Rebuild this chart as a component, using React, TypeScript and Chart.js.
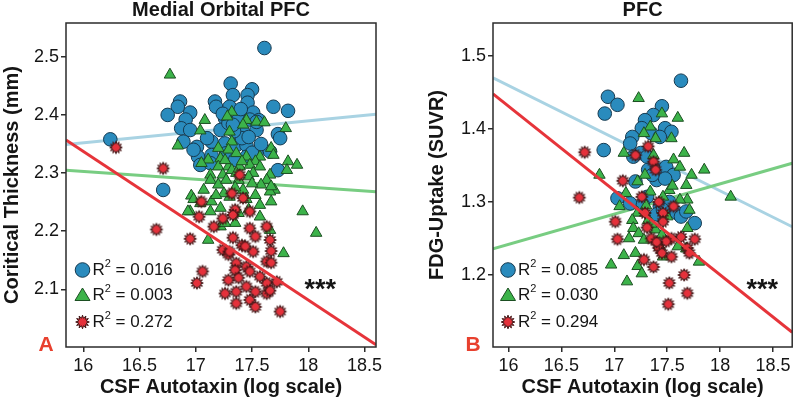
import React, { useEffect, useRef } from 'react';
import { Chart, registerables } from 'chart.js';

Chart.register(...registerables);

type Pt = [number, number];

// ---------- tick labels ----------
const xTickValues = [16, 16.5, 17, 17.5, 18, 18.5];
const yTicksThickness = [2.1, 2.2, 2.3, 2.4, 2.5];
const yTicksFdg = [1.2, 1.3, 1.4, 1.5];

// ---------- Panel A: Medial Orbital PFC (cortical thickness) ----------
const thickBlue: Pt[] = [
  [16.24, 2.358], [16.71, 2.271], [17.61, 2.515], [17.31, 2.454], [17.5, 2.444], [17.33, 2.434], [17.46, 2.434],
  [16.86, 2.423], [17.17, 2.423], [17.46, 2.421], [17.69, 2.414], [17.82, 2.407], [16.84, 2.414], [16.95, 2.404],
  [16.75, 2.4], [17.18, 2.414], [17.3, 2.414], [17.51, 2.404], [16.91, 2.392], [17.26, 2.394], [17.56, 2.391],
  [16.87, 2.377], [16.95, 2.374], [17.22, 2.374], [17.29, 2.386], [17.42, 2.371], [17.54, 2.374], [17.73, 2.367],
  [17.75, 2.36], [16.89, 2.354], [17.14, 2.354], [17.01, 2.345], [17.26, 2.351], [17.36, 2.348], [17.45, 2.348],
  [17.02, 2.328], [17.14, 2.331], [17.27, 2.334], [17.45, 2.328], [17.54, 2.334], [17.04, 2.314], [17.13, 2.317],
  [17.35, 2.323], [17.66, 2.337], [17.73, 2.305], [17.41, 2.36], [17.38, 2.392], [17.4, 2.41], [17.47, 2.362],
  [17.24, 2.402], [17.5, 2.335], [17.1, 2.36], [16.98, 2.34], [17.58, 2.35], [17.34, 2.372], [17.48, 2.392],
  [17.33, 2.383], [17.54, 2.388],
];
const thickGreen: Pt[] = [
  [16.77, 2.469], [17.08, 2.391], [17.04, 2.373], [17.32, 2.405], [17.28, 2.397], [17.45, 2.391], [17.42, 2.383],
  [17.54, 2.388], [17.61, 2.387], [17.8, 2.377], [16.84, 2.347], [17.3, 2.371], [17.32, 2.354], [17.2, 2.343],
  [17.29, 2.34], [17.36, 2.334], [17.67, 2.343], [17.69, 2.331], [17.22, 2.325], [17.45, 2.328], [17.57, 2.328],
  [17.53, 2.32], [17.11, 2.323], [17.2, 2.311], [17.29, 2.311], [17.39, 2.311], [17.48, 2.314], [17.57, 2.311],
  [17.82, 2.32], [17.9, 2.314], [17.05, 2.317], [17.13, 2.297], [17.24, 2.297], [17.32, 2.305], [17.51, 2.3],
  [17.66, 2.297], [17.81, 2.305], [16.96, 2.261], [17.07, 2.271], [17.13, 2.288], [17.2, 2.28], [17.27, 2.288],
  [17.38, 2.288], [17.47, 2.294], [17.63, 2.288], [17.7, 2.271], [17.66, 2.268], [17.53, 2.262], [17.42, 2.271],
  [17.3, 2.259], [17.14, 2.251], [17.04, 2.248], [16.95, 2.234], [17.13, 2.234], [17.22, 2.24], [17.57, 2.245],
  [17.67, 2.251], [17.38, 2.231], [17.47, 2.237], [17.57, 2.225], [17.35, 2.214], [17.22, 2.208], [17.26, 2.214],
  [17.66, 2.202], [17.11, 2.185], [17.78, 2.162], [16.93, 2.234], [17.95, 2.234], [18.07, 2.197], [16.98, 2.255],
  [17.67, 2.277], [17.35, 2.275], [17.25, 2.265], [17.45, 2.255], [17.18, 2.262], [17.58, 2.28], [17.36, 2.3],
  [17.41, 2.32], [17.26, 2.322], [17.5, 2.282],
];
const thickRed: Pt[] = [
  [16.29, 2.344], [16.71, 2.308], [16.65, 2.203], [16.95, 2.187], [17.05, 2.251], [17.03, 2.225], [17.06, 2.131],
  [17.01, 2.111], [17.16, 2.208], [17.39, 2.297], [17.32, 2.265], [17.42, 2.257], [17.48, 2.234], [17.35, 2.237],
  [17.33, 2.228], [17.24, 2.222], [17.48, 2.205], [17.63, 2.208], [17.53, 2.191], [17.33, 2.189], [17.66, 2.185],
  [17.67, 2.166], [17.24, 2.168], [17.41, 2.176], [17.51, 2.165], [17.63, 2.148], [17.29, 2.16], [17.36, 2.145],
  [17.45, 2.139], [17.35, 2.133], [17.48, 2.131], [17.72, 2.113], [17.29, 2.116], [17.38, 2.12], [17.45, 2.105],
  [17.63, 2.111], [17.26, 2.093], [17.36, 2.096], [17.53, 2.096], [17.63, 2.093], [17.66, 2.098], [17.36, 2.076],
  [17.48, 2.082], [17.53, 2.07], [17.75, 2.062], [17.57, 2.122], [17.67, 2.146], [17.44, 2.174], [17.3, 2.165],
];
const thickFitBlue: Pt[] = [[15.846, 2.349], [18.602, 2.401]];
const thickFitGreen: Pt[] = [[15.846, 2.305], [18.602, 2.268]];
const thickFitRed: Pt[] = [[15.846, 2.357], [18.602, 2.005]];
const thickR2 = ['0.016', '0.003', '0.272'];

// ---------- Panel B: PFC (FDG uptake) ----------
const fdgBlue: Pt[] = [
  [17.63, 1.466], [16.94, 1.444], [17.03, 1.433], [16.91, 1.421], [17.45, 1.431], [17.37, 1.419], [17.29, 1.412],
  [17.48, 1.401], [17.54, 1.396], [17.26, 1.401], [17.17, 1.389], [17.35, 1.394], [17.43, 1.389], [16.9, 1.371],
  [17.15, 1.38], [17.25, 1.367], [17.18, 1.362], [17.2, 1.328], [17.32, 1.344], [17.43, 1.344], [17.49, 1.348],
  [17.56, 1.337], [17.4, 1.33], [17.03, 1.305], [17.15, 1.298], [17.31, 1.307], [17.43, 1.294], [17.49, 1.289],
  [17.59, 1.285], [17.63, 1.28], [17.76, 1.271], [17.31, 1.362], [17.48, 1.332], [17.36, 1.337], [17.52, 1.3],
  [17.27, 1.296], [17.4, 1.283], [17.46, 1.289], [17.68, 1.287],
];
const fdgGreen: Pt[] = [
  [17.23, 1.442], [17.45, 1.421], [17.6, 1.415], [17.34, 1.403], [17.28, 1.394], [17.54, 1.387], [17.39, 1.387],
  [17.09, 1.367], [17.37, 1.364], [17.66, 1.367], [17.56, 1.358], [17.85, 1.344], [17.73, 1.337], [17.62, 1.348],
  [16.86, 1.337], [17.29, 1.337], [17.22, 1.328], [17.68, 1.323], [18.1, 1.307], [17.52, 1.316], [17.11, 1.312],
  [17.34, 1.314], [17.46, 1.307], [17.69, 1.303], [17.05, 1.294], [17.22, 1.285], [17.62, 1.303], [17.71, 1.289],
  [17.17, 1.275], [17.32, 1.275], [17.18, 1.264], [17.23, 1.257], [17.39, 1.262], [17.69, 1.264], [17.28, 1.248],
  [17.43, 1.239], [17.6, 1.239], [17.09, 1.227], [17.2, 1.23], [17.46, 1.225], [16.97, 1.214], [17.22, 1.212],
  [17.26, 1.202], [17.12, 1.191], [17.8, 1.218], [17.68, 1.236], [17.35, 1.27], [17.5, 1.28], [17.45, 1.255],
  [17.14, 1.25], [17.3, 1.295], [17.55, 1.322],
];
const fdgRed: Pt[] = [
  [16.72, 1.368], [16.67, 1.306], [17.2, 1.364], [17.32, 1.376], [17.37, 1.355], [17.39, 1.344], [17.08, 1.329],
  [17.26, 1.307], [17.42, 1.3], [17.56, 1.294], [17.29, 1.285], [17.46, 1.285], [17.01, 1.273], [17.46, 1.273],
  [17.03, 1.249], [17.35, 1.25], [17.54, 1.25], [17.63, 1.252], [17.76, 1.249], [17.49, 1.246], [17.42, 1.237],
  [17.45, 1.23], [17.69, 1.237], [17.71, 1.23], [17.54, 1.225], [17.28, 1.221], [17.37, 1.211], [17.66, 1.2],
  [17.52, 1.189], [17.69, 1.175], [17.51, 1.16], [17.4, 1.245], [17.31, 1.265],
];
const fdgFitBlue: Pt[] = [[15.854, 1.47], [18.681, 1.266]];
const fdgFitGreen: Pt[] = [[15.854, 1.236], [18.681, 1.353]];
const fdgFitRed: Pt[] = [[15.854, 1.448], [18.681, 1.1215]];
const fdgR2 = ['0.085', '0.030', '0.294'];

// ---------- styles ----------
const FONT = "'Liberation Sans', Arial, Helvetica, sans-serif";
const TEXT = '#151515';
const BLUE = '#2a8bbd';
const BLUE_EDGE = '#163a50';
const GREEN = '#3cb34a';
const GREEN_EDGE = '#1c4f22';
const RED = '#e5313b';
const RED_EDGE = '#3a1212';
const FIT_BLUE = '#a9d3e3';
const FIT_GREEN = '#78cd82';
const FIT_RED = '#e6343a';
const LETTER_RED = '#e8402e';

function drawStar(ctx: CanvasRenderingContext2D, cx: number, cy: number, outer: number, inner: number) {
  const spikes = 12;
  ctx.beginPath();
  for (let i = 0; i < spikes * 2; i++) {
    const r = i % 2 === 0 ? outer : inner;
    const a = -Math.PI / 2 + (i * Math.PI) / spikes;
    const px = cx + r * Math.cos(a);
    const py = cy + r * Math.sin(a);
    if (i === 0) ctx.moveTo(px, py);
    else ctx.lineTo(px, py);
  }
  ctx.closePath();
  ctx.fillStyle = RED;
  ctx.fill();
  ctx.lineWidth = 1;
  ctx.lineJoin = 'miter';
  ctx.strokeStyle = RED_EDGE;
  ctx.stroke();
}

function makeStarImage(outer: number, inner: number): HTMLCanvasElement {
  const size = Math.ceil(outer * 2 + 3);
  const c = document.createElement('canvas');
  c.width = size;
  c.height = size;
  const ctx = c.getContext('2d')!;
  drawStar(ctx, size / 2, size / 2, outer, inner);
  return c;
}

interface PanelSpec {
  title: string;
  yTitle: string;
  letter: string;
  xMin: number; xMax: number; yMin: number; yMax: number;
  yTicks: number[];
  blue: Pt[]; green: Pt[]; red: Pt[];
  fitBlue: Pt[]; fitGreen: Pt[]; fitRed: Pt[];
  r2: string[];
  padLeft: number; yWidth: number; padRight: number;
  legendDx: number; letterX: number; starsRight: number;
}

const specA: PanelSpec = {
  title: 'Medial Orbital PFC', yTitle: 'Coritical Thickness (mm)', letter: 'A',
  xMin: 15.846, xMax: 18.602, yMin: 2.001, yMax: 2.558, yTicks: yTicksThickness,
  blue: thickBlue, green: thickGreen, red: thickRed,
  fitBlue: thickFitBlue, fitGreen: thickFitGreen, fitRed: thickFitRed, r2: thickR2,
  padLeft: 0, yWidth: 66, padRight: 24, legendDx: 16.5, letterX: 46, starsRight: 336,
};
const specB: PanelSpec = {
  title: 'PFC', yTitle: 'FDG-Uptake (SUVR)', letter: 'B',
  xMin: 15.854, xMax: 18.681, yMin: 1.1014, yMax: 1.545, yTicks: yTicksFdg,
  blue: fdgBlue, green: fdgGreen, red: fdgRed,
  fitBlue: fdgFitBlue, fitGreen: fdgFitGreen, fitRed: fdgFitRed, r2: fdgR2,
  padLeft: 25, yWidth: 68, padRight: 2, legendDx: 15, letterX: 73, starsRight: 378,
};

const toXY = (pts: Pt[]) => pts.map(([x, y]) => ({ x, y }));

function buildConfig(spec: PanelSpec): any {
  const starImg = makeStarImage(6.3, 3.7);
  const fitLine = (pts: Pt[], color: string, order: number) => ({
    type: 'scatter',
    data: toXY(pts),
    showLine: true,
    borderColor: color,
    borderWidth: 3,
    pointRadius: 0,
    fill: false,
    order,
  });

  const framePlugin = {
    id: 'frameAndNotes',
    afterDraw(chart: any) {
      const { ctx, chartArea: a } = chart;
      ctx.save();
      ctx.strokeStyle = '#2b2b2b';
      ctx.lineWidth = 1.5;
      ctx.strokeRect(a.left, a.top, a.right - a.left, a.bottom - a.top);

      // legend inside the plot
      const mx = a.left + spec.legendDx;
      const rows = [270, 295, 322];
      ctx.beginPath();
      ctx.arc(mx, rows[0], 7.3, 0, Math.PI * 2);
      ctx.fillStyle = BLUE;
      ctx.fill();
      ctx.lineWidth = 1;
      ctx.strokeStyle = BLUE_EDGE;
      ctx.stroke();
      ctx.beginPath();
      ctx.moveTo(mx, rows[1] - 7);
      ctx.lineTo(mx - 7.5, rows[1] + 5.5);
      ctx.lineTo(mx + 7.5, rows[1] + 5.5);
      ctx.closePath();
      ctx.fillStyle = GREEN;
      ctx.fill();
      ctx.strokeStyle = GREEN_EDGE;
      ctx.stroke();
      drawStar(ctx, mx, rows[2], 6.8, 3.9);

      const tx = mx + 10;
      ctx.fillStyle = TEXT;
      ctx.textBaseline = 'middle';
      ctx.textAlign = 'left';
      spec.r2.forEach((val, i) => {
        const y = rows[i];
        ctx.font = `17px ${FONT}`;
        ctx.fillText('R', tx, y);
        const wR = ctx.measureText('R').width;
        ctx.font = `11px ${FONT}`;
        ctx.fillText('2', tx + wR, y - 6);
        const w2 = ctx.measureText('2').width;
        ctx.font = `17px ${FONT}`;
        ctx.fillText(' = ' + val, tx + wR + w2, y);
      });

      // significance stars
      ctx.font = `bold 27px ${FONT}`;
      ctx.textAlign = 'right';
      ctx.textBaseline = 'alphabetic';
      ctx.fillText('***', spec.starsRight, 298);

      // panel letter
      ctx.font = `bold 21px ${FONT}`;
      ctx.fillStyle = LETTER_RED;
      ctx.textAlign = 'center';
      ctx.textBaseline = 'middle';
      ctx.fillText(spec.letter, spec.letterX, 345);
      ctx.restore();
    },
  };

  return {
    type: 'scatter',
    data: {
      datasets: [
        fitLine(spec.fitRed, FIT_RED, 0),
        {
          data: toXY(spec.red), pointStyle: starImg, pointRadius: 6, order: 1,
        },
        {
          data: toXY(spec.green), pointStyle: 'triangle', pointRadius: 6.6,
          backgroundColor: GREEN, borderColor: GREEN_EDGE, borderWidth: 1, order: 2,
        },
        {
          data: toXY(spec.blue), pointStyle: 'circle', pointRadius: 6.8,
          backgroundColor: BLUE, borderColor: BLUE_EDGE, borderWidth: 1, order: 3,
        },
        fitLine(spec.fitGreen, FIT_GREEN, 4),
        fitLine(spec.fitBlue, FIT_BLUE, 5),
      ],
    },
    options: {
      responsive: false,
      maintainAspectRatio: false,
      animation: false,
      devicePixelRatio: 1,
      events: [],
      layout: { padding: { left: spec.padLeft, right: spec.padRight, top: 0, bottom: 0 } },
      plugins: {
        legend: { display: false },
        tooltip: { enabled: false },
        title: {
          display: true,
          text: spec.title,
          fullSize: false,
          color: TEXT,
          font: { family: FONT, size: 20, weight: 'bold', lineHeight: 1 },
          padding: { top: 0, bottom: 3 },
        },
      },
      scales: {
        x: {
          type: 'linear',
          min: spec.xMin,
          max: spec.xMax,
          border: { display: false },
          grid: { display: true, drawOnChartArea: false, drawTicks: true, tickLength: 5, color: '#2b2b2b', lineWidth: 1.5 },
          ticks: {
            color: TEXT, padding: 3, maxRotation: 0, autoSkip: false,
            font: { family: FONT, size: 18 },
            callback: (v: any) => String(Number(v)),
          },
          title: {
            display: true, text: 'CSF Autotaxin (log scale)', color: TEXT,
            font: { family: FONT, size: 20, weight: 'bold' },
            padding: { top: 0, bottom: 1 },
          },
          afterBuildTicks: (s: any) => { s.ticks = xTickValues.map((v) => ({ value: v })); },
          afterFit: (s: any) => { s.height = 53; },
        },
        y: {
          type: 'linear',
          min: spec.yMin,
          max: spec.yMax,
          border: { display: false },
          grid: { display: true, drawOnChartArea: false, drawTicks: true, tickLength: 5, color: '#2b2b2b', lineWidth: 1.5 },
          ticks: {
            color: TEXT, padding: 2, autoSkip: false,
            font: { family: FONT, size: 18 },
            callback: (v: any) => Number(v).toFixed(1),
          },
          title: {
            display: true, text: spec.yTitle, color: TEXT,
            font: { family: FONT, size: 20, weight: 'bold' },
            padding: { top: 0, bottom: 0 },
          },
          afterBuildTicks: (s: any) => { s.ticks = spec.yTicks.map((v) => ({ value: v })); },
          afterFit: (s: any) => { s.width = spec.yWidth; },
        },
      },
    },
    plugins: [framePlugin],
  };
}

function Panel({ spec, left }: { spec: PanelSpec; left: number }) {
  const ref = useRef<HTMLCanvasElement>(null);
  useEffect(() => {
    if (!ref.current) return;
    const chart = new Chart(ref.current, buildConfig(spec));
    return () => chart.destroy();
  }, [spec]);
  return (
    <div style={{ position: 'absolute', left, top: 0, width: 400, height: 400 }}>
      <canvas ref={ref} width={400} height={400} style={{ display: 'block', width: 400, height: 400 }} />
    </div>
  );
}

export default function App() {
  return (
    <div style={{ position: 'absolute', left: 0, top: 0, width: 800, height: 400, background: '#ffffff', overflow: 'hidden' }}>
      <Panel spec={specA} left={0} />
      <Panel spec={specB} left={400} />
    </div>
  );
}
